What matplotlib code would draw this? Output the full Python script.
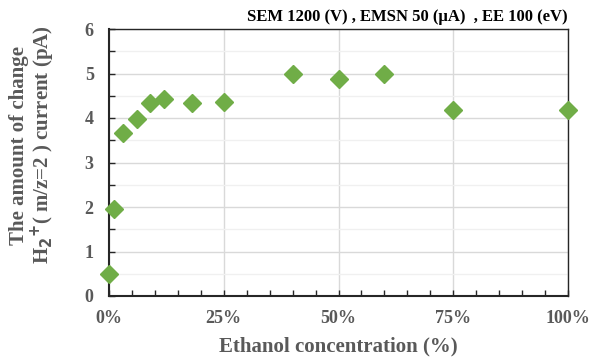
import matplotlib.pyplot as plt
import numpy as np
from matplotlib.ticker import MultipleLocator, PercentFormatter

ethanol = [0, 1, 3, 6, 9, 12, 18, 25, 40, 50, 60, 75, 100]
current = [0.5, 1.95, 3.67, 3.97, 4.33, 4.43, 4.33, 4.36, 4.98, 4.87, 5.0, 4.18, 4.18]

plt.rcParams["font.family"] = ["Liberation Serif", "DejaVu Serif"]
plt.rcParams["font.weight"] = "bold"
grey = "#595959"

fig = plt.figure(figsize=(5.98, 3.58), dpi=100)
ax = fig.add_axes([109 / 598, 62 / 358, 459 / 598, 267 / 358])

ax.plot(ethanol, current, linestyle="none", marker="D", markersize=9,
        color="#70AD47", clip_on=False, zorder=3)

ax.set_xlim(0, 100)
ax.set_ylim(0, 6)
ax.xaxis.set_major_locator(MultipleLocator(25))
ax.xaxis.set_minor_locator(MultipleLocator(5))
ax.yaxis.set_major_locator(MultipleLocator(1))
ax.yaxis.set_minor_locator(MultipleLocator(0.5))
ax.xaxis.set_major_formatter(PercentFormatter(decimals=0))

ax.grid(which="major", color="#d9d9d9", linewidth=1)
ax.grid(which="minor", axis="y", color="#f0f0f0", linewidth=1)
ax.set_axisbelow(True)

ax.tick_params(which="both", direction="in", color="#262626", width=1,
               labelcolor=grey, labelsize=13, length=4)
ax.tick_params(axis="x", which="major", pad=10)
ax.tick_params(axis="y", which="major", pad=11)
for lab in ax.get_xticklabels() + ax.get_yticklabels():
    lab.set_fontweight("bold")

for side in ["top", "right"]:
    ax.spines[side].set_linewidth(1)
    ax.spines[side].set_color("#262626")
for side in ["left", "bottom"]:
    ax.spines[side].set_linewidth(1.5)
    ax.spines[side].set_color("#262626")

fig.text(338 / 598, 1 - 346 / 358, "Ethanol concentration (%)", ha="center",
         va="center", fontsize=15, fontweight="bold", color=grey)
fig.text(33 / 598, 1 - 145 / 358,
         "The amount of change\nH$_2$$^{+}$( m/z=2 ) current (pA)",
         ha="center", va="center", rotation=90, multialignment="center",
         fontsize=15, fontweight="bold", color=grey, linespacing=1.0)

fig.text(568 / 598, 1 - 17 / 358, "SEM 1200 (V) , EMSN 50 (\u03bcA)  , EE 100 (eV)",
         ha="right", va="center", fontsize=12, fontweight="bold", color="black")

fig.savefig("out.png", dpi=100)
